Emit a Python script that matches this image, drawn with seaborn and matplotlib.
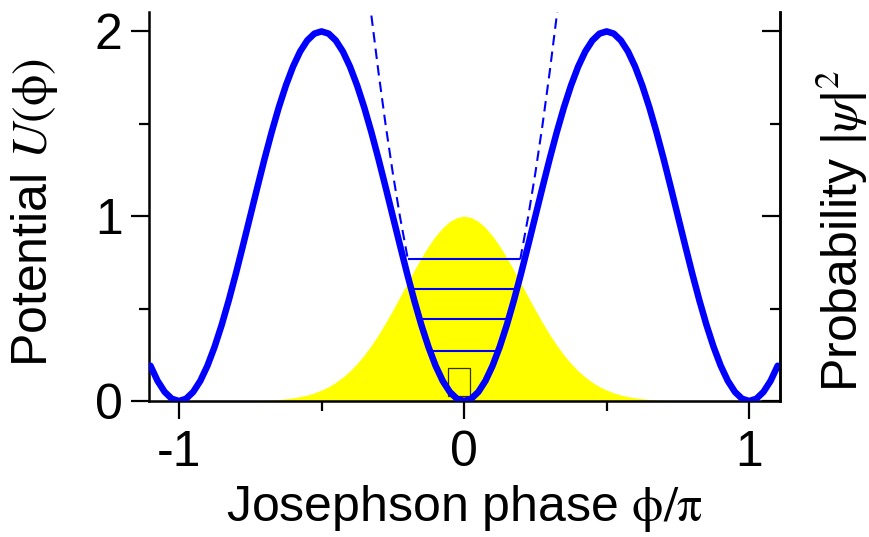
import numpy as np
import pandas as pd
import matplotlib
matplotlib.use("Agg")
import matplotlib.pyplot as plt
from matplotlib.patches import Rectangle
from matplotlib.ticker import FixedLocator
import seaborn as sns

# ---- data -------------------------------------------------------------
# phase grid (in units of pi) for the washboard potential
phase = np.linspace(-1.1, 1.1, 89)
potential = [
    0.191, 0.109, 0.049, 0.012,
    0.000, 0.012, 0.049, 0.109, 0.191, 0.293, 0.412, 0.546, 0.691, 0.844,
    1.000, 1.156, 1.309, 1.454, 1.588, 1.707, 1.809, 1.891, 1.951, 1.988,
    2.000, 1.988, 1.951, 1.891, 1.809, 1.707, 1.588, 1.454, 1.309, 1.156,
    1.000, 0.844, 0.691, 0.546, 0.412, 0.293, 0.191, 0.109, 0.049, 0.012,
    0.000, 0.012, 0.049, 0.109, 0.191, 0.293, 0.412, 0.546, 0.691, 0.844,
    1.000, 1.156, 1.309, 1.454, 1.588, 1.707, 1.809, 1.891, 1.951, 1.988,
    2.000, 1.988, 1.951, 1.891, 1.809, 1.707, 1.588, 1.454, 1.309, 1.156,
    1.000, 0.844, 0.691, 0.546, 0.412, 0.293, 0.191, 0.109, 0.049, 0.012,
    0.000, 0.012, 0.049, 0.109, 0.191,
]

# ground-state probability density |psi|^2
psi_phase = np.linspace(-0.8, 0.8, 65)
psi_half = [
    1.000, 0.993, 0.972, 0.938, 0.893, 0.838, 0.775, 0.707, 0.635, 0.563,
    0.492, 0.424, 0.360, 0.302, 0.249, 0.203, 0.163, 0.129, 0.101, 0.077,
    0.059, 0.044, 0.032, 0.024, 0.017, 0.012, 0.008, 0.006, 0.004, 0.003,
    0.002, 0.001, 0.001,
]
probability = psi_half[:0:-1] + psi_half

# harmonic approximation of the well (dashed)
harm_phase_right = [0.197, 0.225, 0.250, 0.275, 0.300, 0.325, 0.350]
harm_U_right = [0.766, 0.999, 1.234, 1.493, 1.777, 2.085, 2.418]
harm_phase_left = [-0.350, -0.325, -0.300, -0.275, -0.250, -0.225, -0.197]
harm_U_left = [2.418, 2.085, 1.777, 1.493, 1.234, 0.999, 0.766]

# quantised energy levels and their half-widths inside the well
level_energy = [0.272, 0.442, 0.604, 0.766]
level_halfwidth = [0.117, 0.150, 0.175, 0.197]

# small marker box at the bottom of the well
box_x = [-0.057, 0.022]
box_y = [0.027, 0.177]

x_ticks = [-1, 0, 1]
x_ticklabels = ["-1", "0", "1"]
y_ticks = [0, 1, 2]
y_ticklabels = ["0", "1", "2"]

# ---- style ------------------------------------------------------------
sns.set_theme(style="ticks")
plt.rcParams["font.family"] = ["Liberation Sans", "DejaVu Sans"]
plt.rcParams["mathtext.fontset"] = "stix"
plt.rcParams["axes.unicode_minus"] = False

FS = 36
BLUE = "#0000ff"
YELLOW = "#ffff00"

fig = plt.figure(figsize=(8.7, 5.37), dpi=100)
ax = fig.add_axes([149 / 870, 1 - 401 / 537, 631 / 870, 389 / 537])

# probability density
ax.fill_between(psi_phase, 0, probability, color=YELLOW, linewidth=0, zorder=1)

# marker box
ax.add_patch(Rectangle((box_x[0], box_y[0]), box_x[1] - box_x[0],
                       box_y[1] - box_y[0], fill=False, edgecolor="#333300",
                       linewidth=0.9, zorder=2))

# energy levels
ax.hlines(level_energy, [-w for w in level_halfwidth], level_halfwidth,
          color=BLUE, linewidth=1.5, zorder=3)

# harmonic approximation
for hx, hy in ((harm_phase_left, harm_U_left), (harm_phase_right, harm_U_right)):
    sns.lineplot(x=hx, y=hy, ax=ax, color=BLUE, linewidth=1.5,
                 linestyle=(0, (5, 3)), sort=False, zorder=4)

# Josephson potential
df = pd.DataFrame({"phase": phase, "U": potential})
sns.lineplot(data=df, x="phase", y="U", ax=ax, color=BLUE, linewidth=4.7,
             sort=False, zorder=5)

ax.set_xlim(-1.105, 1.108)
ax.set_ylim(0, 2.105)

ax.set_xticks(x_ticks)
ax.set_xticklabels(x_ticklabels)
ax.set_yticks(y_ticks)
ax.set_yticklabels(y_ticklabels)
ax.xaxis.set_minor_locator(FixedLocator([-0.5, 0.5]))
ax.yaxis.set_minor_locator(FixedLocator([0.5, 1.5]))

for side in ("left", "right", "bottom"):
    ax.spines[side].set_visible(True)
    ax.spines[side].set_linewidth(1.8)
    ax.spines[side].set_color("black")
ax.spines["top"].set_visible(False)

ax.tick_params(axis="both", which="major", length=13, width=1.6,
               labelsize=FS, color="black", labelcolor="black")
ax.tick_params(axis="both", which="minor", length=7, width=1.6, color="black")
ax.tick_params(axis="y", which="both", direction="out", left=True, right=False, pad=6)
ax.tick_params(axis="x", which="both", direction="out", bottom=True, top=False, pad=8)

# right-hand axis for the probability density
ax2 = ax.twinx()
ax2.set_ylim(ax.get_ylim())
ax2.set_yticks(y_ticks)
ax2.yaxis.set_minor_locator(FixedLocator([0.5, 1.5]))
ax2.tick_params(axis="y", which="major", direction="in", length=13, width=1.6,
                labelright=False, color="black")
ax2.tick_params(axis="y", which="minor", direction="in", length=7, width=1.6,
                color="black")
for side in ("left", "top", "bottom"):
    ax2.spines[side].set_visible(False)
ax2.spines["right"].set_linewidth(1.8)
ax2.spines["right"].set_color("black")

ax.set_xlabel(r"Josephson phase $\mathrm{\phi/\pi}$", fontsize=FS, color="black",
              labelpad=5)
ax.set_ylabel(r"Potential $U(\mathrm{\phi})$", fontsize=FS, color="black",
              va="center", rotation_mode="default")
ax.yaxis.set_label_coords(-0.1807, 0.4833)
ax2.set_ylabel(r"Probability |$\psi$|$^2$", fontsize=FS, color="black",
               va="center", rotation_mode="default", rotation=90)
ax2.yaxis.set_label_coords(1.0982, 0.437)

fig.savefig("out.png", dpi=100, facecolor="white")
